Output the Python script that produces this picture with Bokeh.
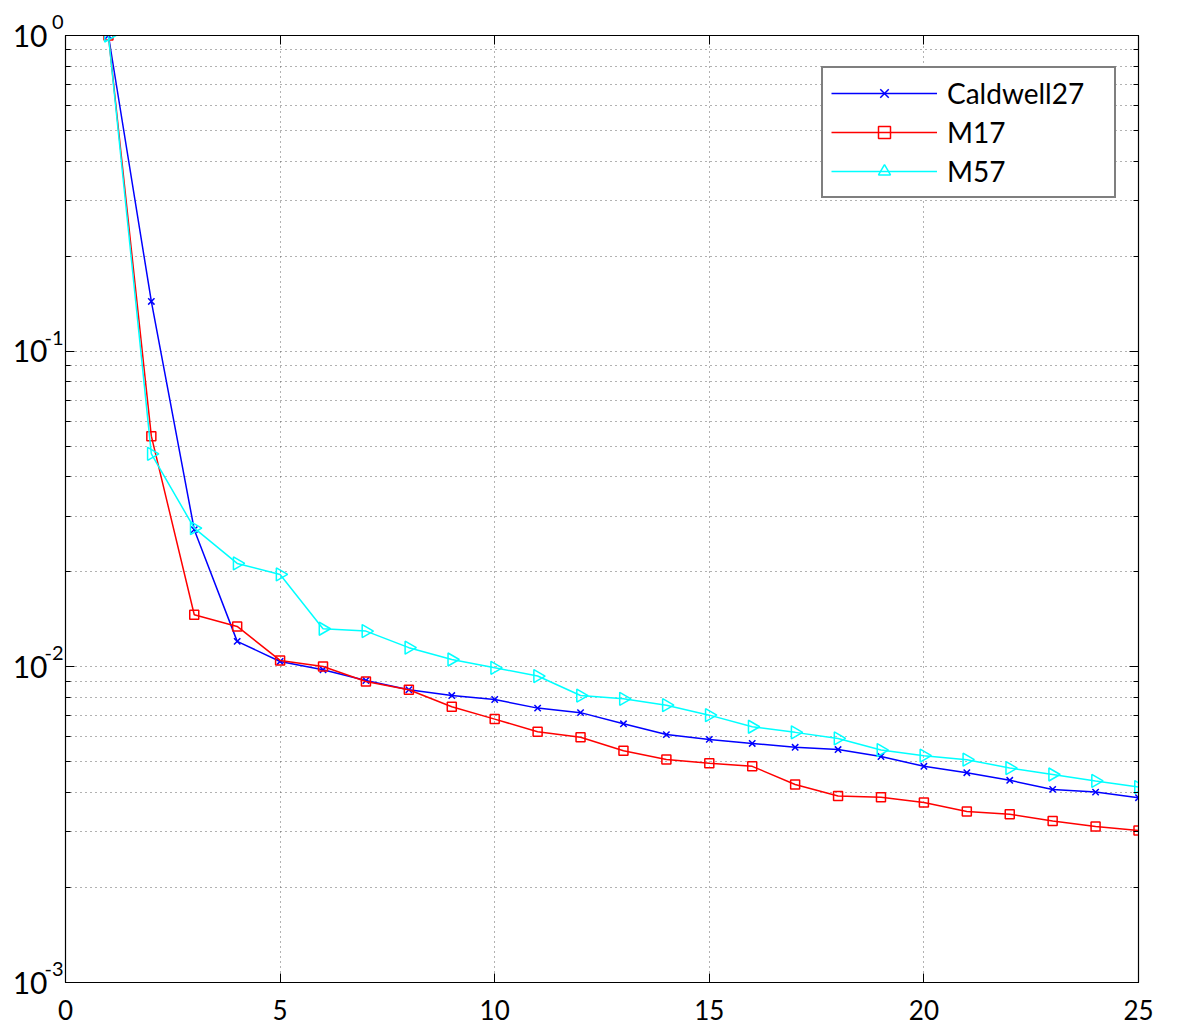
import numpy as np
from bokeh.plotting import figure
from bokeh.models import Range1d, FixedTicker, LogAxis, LinearAxis, Legend, LegendItem
from bokeh.embed import file_html
from bokeh.resources import INLINE

# ---- data ----
x = list(range(1, 26))
caldwell27 = [1.0, 0.1437, 0.0272, 0.01204, 0.0104, 0.00979, 0.00905, 0.00846, 0.00811, 0.00788,
              0.0074, 0.00716, 0.0066, 0.0061, 0.00589, 0.00572, 0.00556, 0.00547, 0.0052, 0.00484,
              0.00462, 0.00437, 0.00409, 0.00401, 0.00385]
m17 = [1.0, 0.0538, 0.01462, 0.01343, 0.01048, 0.01003, 0.00899, 0.00846, 0.00747, 0.00683,
       0.00623, 0.00598, 0.00542, 0.00509, 0.00495, 0.00484, 0.00424, 0.0039, 0.00386, 0.00372,
       0.00348, 0.00341, 0.00325, 0.00312, 0.00303]
m57 = [1.0, 0.0473, 0.0275, 0.02126, 0.01962, 0.0132, 0.01298, 0.0115, 0.01055, 0.00993,
       0.00935, 0.00811, 0.00792, 0.00756, 0.00703, 0.00646, 0.0062, 0.00593, 0.00545, 0.00523,
       0.00508, 0.00478, 0.00456, 0.00435, 0.00416]
series_names = ["Caldwell27", "M17", "M57"]
x_ticks = [0, 5, 10, 15, 20, 25]
y_major = [1e-3, 1e-2, 1e-1, 1e0]
y_exponents = ["-3", "-2", "-1", "0"]

FONT = "Lato"

y_minor = [m * d for d in [1e-3, 1e-2, 1e-1] for m in range(2, 10)]

p = figure(width=1184, height=1025, x_axis_type="linear", y_axis_type="log",
           x_range=Range1d(0, 25), y_range=Range1d(1e-3, 1),
           output_backend="svg", toolbar_location=None,
           min_border_left=65, min_border_right=46, min_border_top=35, min_border_bottom=43)
p.background_fill_color = "white"
p.border_fill_color = "white"
p.outline_line_color = "black"
p.outline_line_width = 1.2

yticker = FixedTicker(ticks=y_major, minor_ticks=y_minor)
xticker = FixedTicker(ticks=x_ticks, minor_ticks=[])

p.yaxis.ticker = yticker
p.xaxis.ticker = xticker
for ax in [p.xaxis[0], p.yaxis[0]]:
    ax.major_tick_in = 9
    ax.major_tick_out = 0
    ax.minor_tick_in = 5
    ax.minor_tick_out = 0
    ax.axis_line_color = "black"
    ax.major_tick_line_color = "black"
    ax.minor_tick_line_color = "black"

p.xaxis.major_label_text_font = FONT
p.xaxis.major_label_text_font_size = "26px"
p.xaxis.major_label_text_color = "black"
p.xaxis.major_label_standoff = 17

# inner left axis: the exponents (superscripts); trailing empty line raises them
p.yaxis.major_label_overrides = {v: e + "\n" for v, e in zip(y_major, y_exponents)}
p.yaxis.major_label_text_font = FONT
p.yaxis.major_label_text_font_size = "20px"
p.yaxis.major_label_text_color = "black"
p.yaxis.major_label_standoff = 2

# outer left axis: the base "10"
base_axis = LogAxis(ticker=yticker, major_label_overrides={v: "10" for v in y_major},
                    major_label_text_font=FONT, major_label_text_font_size="30px",
                    major_label_text_color="black", major_label_standoff=-6,
                    major_tick_in=0, major_tick_out=0, minor_tick_in=0, minor_tick_out=0,
                    major_tick_line_color=None, minor_tick_line_color=None,
                    axis_line_color=None)
p.add_layout(base_axis, "left")

# right and top axes (ticks only)
ra = LogAxis(ticker=yticker, major_label_overrides={v: "" for v in y_major},
             major_label_text_font_size="1px", major_tick_in=9, major_tick_out=0,
             minor_tick_in=5, minor_tick_out=0, axis_line_color="black")
p.add_layout(ra, "right")
ta = LinearAxis(ticker=xticker, major_label_overrides={v: "" for v in x_ticks},
                major_label_text_font_size="1px", major_tick_in=9, major_tick_out=0,
                minor_tick_in=0, minor_tick_out=0, axis_line_color="black")
p.add_layout(ta, "above")

# grids
for g in [p.xgrid[0], p.ygrid[0]]:
    g.grid_line_color = "#555555"
    g.grid_line_alpha = 0.9
    g.grid_line_dash = "1 4"
p.ygrid.minor_grid_line_color = "#555555"
p.ygrid.minor_grid_line_alpha = 0.9
p.ygrid.minor_grid_line_dash = "1 4"

BLUE, RED, CYAN = "#0000ff", "#ff0000", "#00ffff"

l1 = p.line(x, caldwell27, line_color=BLUE, line_width=1.5)
m1 = p.scatter(x, caldwell27, marker="x", size=9, line_color=BLUE, line_width=1.5)
l2 = p.line(x, m17, line_color=RED, line_width=1.5)
m2 = p.scatter(x, m17, marker="square", size=9, line_color=RED, fill_alpha=0, line_width=1.5)
l3 = p.line(x, m57, line_color=CYAN, line_width=1.5)
m3 = p.scatter(x, m57, marker="triangle", size=13, angle=-np.pi / 2, line_color=CYAN,
               fill_alpha=0, line_width=1.5)

legend = Legend(items=[LegendItem(label=series_names[0], renderers=[l1, m1]),
                       LegendItem(label=series_names[1], renderers=[l2, m2]),
                       LegendItem(label=series_names[2], renderers=[l3, m3])],
                location=(756, 784), orientation="vertical",
                padding=8, margin=0, spacing=5,
                glyph_width=106, glyph_height=30, label_height=30, label_width=159,
                label_standoff=10,
                label_text_font=FONT, label_text_font_size="28px", label_text_color="black",
                border_line_color="black", border_line_width=2,
                background_fill_color="white", background_fill_alpha=1.0)
p.add_layout(legend, "center")

open("out.html", "w").write(file_html(p, INLINE))
